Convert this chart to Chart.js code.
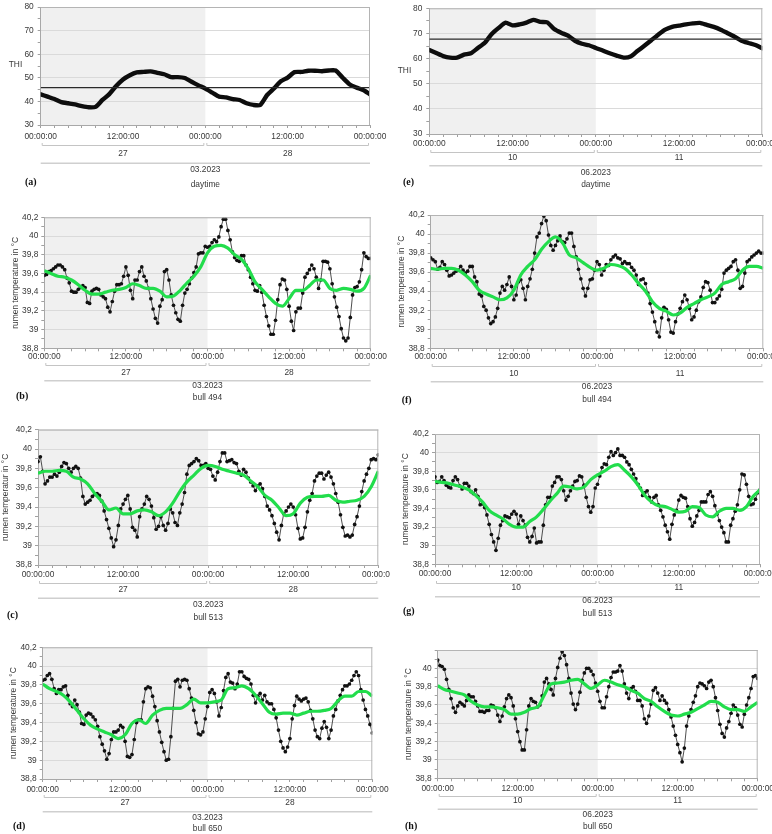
<!DOCTYPE html>
<html><head><meta charset="utf-8">
<script src="https://cdn.jsdelivr.net/npm/chart.js@4.4.1/dist/chart.umd.min.js"></script>
<style>
html,body{margin:0;padding:0;background:#fff;}
body{width:772px;height:834px;position:relative;overflow:hidden;}
canvas{position:absolute;}
</style></head><body>
<canvas id="ca"></canvas><canvas id="ce"></canvas>
<canvas id="cb"></canvas><canvas id="cf"></canvas>
<canvas id="cc"></canvas><canvas id="cg"></canvas>
<canvas id="cd"></canvas><canvas id="ch"></canvas>
<script>
// ---------------- data ----------------
const daysMarch = ['27', '28'];
const daysJune = ['10', '11'];
const monthMarch = '03.2023';
const monthJune = '06.2023';
const timeTickLabels = ['00:00:00', '12:00:00', '00:00:00', '12:00:00', '00:00:00'];

// THI, hourly
const thiMarch = [43.0,42.0,41.0,39.7,39.2,38.7,38.0,37.5,37.7,40.6,43.1,46.5,49.3,51.1,52.3,52.5,52.7,52.1,51.5,50.3,50.3,49.9,48.3,46.8,45.4,43.7,42.0,41.7,41.0,40.6,39.2,38.5,38.5,42.7,45.5,48.5,50.1,52.4,52.5,53.0,53.0,52.8,53.1,53.1,50.1,47.3,45.9,44.8,43.0];
const thiJune = [63.4,62.2,61.0,60.4,60.4,61.6,62.1,64.2,66.3,69.8,72.2,74.3,73.2,73.6,74.3,75.4,74.6,74.4,71.8,70.3,69.1,67.1,65.9,65.3,64.2,63.2,62.1,61.2,60.4,60.8,63.0,65.1,67.3,69.5,71.5,72.6,73.1,73.6,74.0,74.2,73.4,72.6,71.5,70.1,68.7,67.1,66.2,65.4,64.1];
const thiLimitMarch = 45.8;
const thiLimitJune = 67.7;

// rumen temperature, 20-minute readings
const rumen494March = [39.58,39.59,39.62,39.63,39.65,39.67,39.69,39.69,39.67,39.64,39.55,39.50,39.41,39.40,39.40,39.43,39.45,39.47,39.45,39.29,39.28,39.41,39.43,39.44,39.43,39.37,39.35,39.33,39.24,39.19,39.30,39.41,39.48,39.48,39.49,39.57,39.67,39.58,39.42,39.33,39.53,39.53,39.62,39.67,39.57,39.52,39.44,39.33,39.22,39.12,39.07,39.25,39.32,39.62,39.64,39.53,39.37,39.26,39.18,39.11,39.09,39.26,39.39,39.43,39.49,39.55,39.61,39.67,39.81,39.82,39.82,39.89,39.88,39.89,39.93,39.96,39.94,39.99,40.10,40.18,40.18,40.06,39.96,39.83,39.77,39.74,39.73,39.79,39.79,39.69,39.64,39.56,39.49,39.42,39.41,39.47,39.40,39.26,39.14,39.04,38.95,38.95,39.10,39.32,39.48,39.54,39.53,39.43,39.25,39.09,38.99,39.19,39.23,39.23,39.39,39.56,39.60,39.64,39.69,39.65,39.56,39.44,39.53,39.73,39.73,39.72,39.65,39.49,39.35,39.24,39.14,39.01,38.91,38.88,38.91,39.13,39.37,39.45,39.46,39.51,39.64,39.82,39.78,39.76,39.76];
const rumen494June = [39.75,39.73,39.71,39.63,39.65,39.71,39.68,39.62,39.56,39.57,39.59,39.61,39.62,39.66,39.62,39.59,39.61,39.66,39.66,39.55,39.50,39.37,39.35,39.24,39.20,39.12,39.06,39.08,39.13,39.22,39.38,39.45,39.41,39.47,39.55,39.45,39.31,39.36,39.50,39.52,39.43,39.31,39.45,39.53,39.63,39.80,39.97,40.01,40.11,40.19,40.14,39.99,39.88,39.83,39.88,39.93,39.98,39.92,39.91,39.95,40.01,40.01,39.87,39.76,39.63,39.53,39.43,39.35,39.43,39.52,39.53,39.62,39.71,39.68,39.57,39.62,39.68,39.67,39.73,39.76,39.78,39.75,39.74,39.69,39.71,39.69,39.69,39.65,39.62,39.57,39.47,39.52,39.53,39.48,39.38,39.27,39.18,39.08,38.97,38.92,39.12,39.23,39.21,39.10,38.97,38.96,39.08,39.16,39.22,39.29,39.36,39.31,39.22,39.10,39.13,39.20,39.29,39.34,39.44,39.50,39.49,39.41,39.28,39.28,39.32,39.35,39.42,39.59,39.62,39.64,39.66,39.71,39.73,39.62,39.43,39.45,39.59,39.71,39.73,39.76,39.78,39.80,39.82,39.80,39.80];
const rumen513March = [39.87,39.92,39.77,39.64,39.67,39.71,39.71,39.74,39.72,39.76,39.82,39.86,39.85,39.80,39.76,39.80,39.82,39.80,39.70,39.51,39.43,39.45,39.47,39.51,39.53,39.54,39.52,39.46,39.36,39.27,39.18,39.08,38.99,39.06,39.21,39.38,39.43,39.48,39.52,39.38,39.19,39.16,39.09,39.30,39.38,39.43,39.51,39.48,39.41,39.29,39.17,39.20,39.30,39.21,39.16,39.23,39.38,39.34,39.24,39.21,39.34,39.43,39.55,39.74,39.83,39.85,39.87,39.90,39.88,39.83,39.83,39.85,39.80,39.79,39.72,39.68,39.76,39.87,39.96,39.96,39.87,39.88,39.89,39.86,39.85,39.77,39.73,39.79,39.76,39.70,39.66,39.62,39.57,39.62,39.64,39.59,39.51,39.41,39.37,39.31,39.23,39.14,39.06,39.21,39.33,39.36,39.40,39.43,39.40,39.32,39.18,39.07,39.08,39.19,39.35,39.47,39.54,39.67,39.72,39.75,39.75,39.69,39.73,39.76,39.71,39.64,39.54,39.45,39.32,39.19,39.10,39.11,39.09,39.11,39.22,39.30,39.41,39.56,39.67,39.74,39.80,39.89,39.90,39.89,39.94];
const rumen513June = [39.74,39.68,39.69,39.74,39.70,39.65,39.63,39.62,39.70,39.74,39.71,39.64,39.61,39.67,39.67,39.64,39.58,39.56,39.60,39.53,39.44,39.45,39.41,39.33,39.23,39.12,39.04,38.95,39.08,39.22,39.27,39.32,39.31,39.30,39.34,39.37,39.34,39.23,39.32,39.27,39.22,39.09,39.04,39.10,39.19,39.03,39.04,39.04,39.22,39.44,39.52,39.52,39.64,39.68,39.74,39.74,39.71,39.59,39.49,39.53,39.59,39.64,39.69,39.70,39.75,39.74,39.65,39.52,39.42,39.36,39.42,39.62,39.66,39.75,39.84,39.88,39.87,39.95,40.01,39.97,40.00,40.04,39.97,39.97,39.95,39.90,39.87,39.82,39.77,39.72,39.66,39.62,39.54,39.57,39.59,39.52,39.47,39.52,39.54,39.44,39.38,39.31,39.22,39.15,39.07,39.23,39.33,39.38,39.49,39.54,39.52,39.51,39.42,39.29,39.21,39.25,39.32,39.38,39.47,39.47,39.47,39.55,39.58,39.53,39.43,39.34,39.27,39.20,39.14,39.04,39.04,39.22,39.29,39.37,39.44,39.60,39.77,39.76,39.66,39.53,39.44,39.45,39.50,39.57,39.60];
const rumen650March = [39.85,39.86,39.90,39.92,39.86,39.76,39.71,39.75,39.75,39.78,39.79,39.69,39.60,39.57,39.64,39.59,39.51,39.39,39.38,39.48,39.50,39.49,39.46,39.43,39.36,39.25,39.17,39.10,39.01,39.07,39.22,39.30,39.30,39.32,39.37,39.35,39.20,39.04,39.03,39.06,39.22,39.40,39.43,39.43,39.62,39.76,39.78,39.77,39.68,39.57,39.42,39.30,39.19,39.09,39.00,39.01,39.25,39.55,39.84,39.86,39.78,39.85,39.86,39.85,39.76,39.66,39.53,39.40,39.28,39.27,39.30,39.44,39.57,39.72,39.75,39.71,39.62,39.47,39.56,39.74,39.88,39.92,39.83,39.82,39.76,39.81,39.94,39.94,39.89,39.87,39.86,39.81,39.69,39.61,39.68,39.71,39.64,39.69,39.62,39.60,39.60,39.54,39.45,39.32,39.20,39.13,39.09,39.14,39.23,39.44,39.58,39.68,39.65,39.63,39.65,39.66,39.62,39.53,39.44,39.32,39.25,39.23,39.34,39.41,39.35,39.23,39.32,39.47,39.54,39.63,39.69,39.75,39.79,39.79,39.81,39.85,39.90,39.94,39.90,39.75,39.64,39.54,39.47,39.38,39.29];
const rumen650June = [40.09,40.03,40.02,39.99,39.88,39.77,39.67,39.57,39.52,39.59,39.63,39.61,39.59,39.65,39.71,39.69,39.69,39.64,39.59,39.53,39.53,39.52,39.54,39.54,39.60,39.59,39.57,39.49,39.42,39.48,39.58,39.67,39.71,39.68,39.59,39.45,39.31,39.20,39.11,39.11,39.33,39.59,39.67,39.64,39.63,39.58,39.60,39.70,39.85,39.89,39.83,39.77,39.71,39.89,40.01,40.11,40.18,40.14,40.04,39.89,39.73,39.61,39.55,39.61,39.74,39.87,39.95,40.00,40.00,39.97,39.93,39.84,39.75,39.64,39.57,39.57,39.69,39.80,39.90,39.96,39.96,39.97,40.03,39.97,39.83,39.73,39.67,39.78,39.80,39.75,39.65,39.65,39.59,39.45,39.40,39.48,39.61,39.76,39.79,39.73,39.65,39.70,39.65,39.62,39.55,39.47,39.37,39.27,39.17,39.08,38.98,39.13,39.37,39.48,39.55,39.63,39.70,39.80,39.84,39.83,39.81,39.78,39.85,39.87,39.80,39.68,39.54,39.39,39.29,39.25,39.35,39.42,39.51,39.60,39.57,39.49,39.39,39.36,39.50,39.60,39.68,39.78,39.91,39.92,39.89];

// smoothed trend (green), hourly
const trend494March = [39.63,39.60,39.57,39.56,39.53,39.48,39.42,39.38,39.38,39.40,39.42,39.43,39.45,39.49,39.47,39.44,39.44,39.41,39.35,39.36,39.42,39.50,39.57,39.67,39.82,39.89,39.90,39.87,39.80,39.75,39.65,39.51,39.43,39.35,39.28,39.25,39.33,39.42,39.42,39.47,39.53,39.53,39.44,39.42,39.44,39.43,39.41,39.44,39.58];
const trend494June = [39.64,39.63,39.64,39.64,39.62,39.57,39.50,39.41,39.37,39.34,39.31,39.33,39.41,39.57,39.66,39.73,39.84,39.92,39.97,39.91,39.78,39.75,39.70,39.65,39.62,39.64,39.68,39.67,39.64,39.57,39.48,39.40,39.29,39.22,39.19,39.15,39.17,39.23,39.27,39.31,39.34,39.38,39.47,39.50,39.53,39.62,39.66,39.66,39.64];
const trend513March = [39.75,39.77,39.77,39.78,39.77,39.71,39.69,39.64,39.54,39.46,39.37,39.39,39.33,39.33,39.36,39.37,39.35,39.31,39.35,39.44,39.56,39.66,39.73,39.80,39.83,39.82,39.79,39.77,39.75,39.73,39.67,39.61,39.52,39.47,39.39,39.31,39.33,39.44,39.50,39.51,39.51,39.52,39.47,39.45,39.46,39.47,39.51,39.61,39.77];
const trend513June = [39.69,39.68,39.67,39.65,39.63,39.60,39.54,39.47,39.38,39.33,39.29,39.23,39.20,39.20,39.26,39.31,39.39,39.48,39.56,39.64,39.63,39.61,39.63,39.71,39.76,39.80,39.85,39.87,39.81,39.74,39.65,39.54,39.47,39.43,39.42,39.39,39.36,39.37,39.42,39.41,39.33,39.31,39.37,39.40,39.40,39.38,39.42,39.53,39.60];
const trend650March = [39.81,39.76,39.73,39.69,39.62,39.53,39.44,39.37,39.33,39.30,39.27,39.23,39.27,39.39,39.43,39.39,39.48,39.53,39.55,39.55,39.55,39.59,39.65,39.61,39.61,39.62,39.64,39.76,39.77,39.79,39.76,39.69,39.60,39.51,39.49,39.50,39.50,39.48,39.50,39.52,39.52,39.53,39.55,39.63,39.68,39.68,39.73,39.73,39.68];
const trend650June = [39.81,39.77,39.75,39.73,39.71,39.64,39.60,39.58,39.58,39.57,39.55,39.50,39.50,39.52,39.56,39.58,39.71,39.83,39.84,39.85,39.87,39.88,39.83,39.78,39.82,39.87,39.85,39.82,39.80,39.76,39.73,39.67,39.64,39.58,39.53,39.49,39.48,39.50,39.52,39.56,39.60,39.64,39.63,39.58,39.55,39.55,39.53,39.58,39.63];

// time axis (hours since first midnight)
const hoursHourly = Array.from({length: 49}, (_, i) => i);
const hours20min = Array.from({length: 145}, (_, i) => i / 3);

// ---------------- drawing ----------------
const FONT = '"Liberation Sans",Arial,sans-serif';
const FS = 8.4;
const TXT = '#383838';
const GREEN = '#22dd4c';

function pts(xs, ys) { return ys.map((v, i) => ({x: xs[i], y: v})); }

const panels = [
  {id:'a', left:0, top:0, w:390, h:195, L:40.7, T:7, R:370, B:125, kind:'thi', series:thiMarch, limit:thiLimitMarch,
   days:daysMarch, month:monthMarch, sub:'daytime', letter:'(a)', lx:25, ly:182.7, thiX:15.5, thiY:65, xPad:3.7,
   off:{br:20, day:28.3, long:38.3, mon:45, sub:59.3}},
  {id:'e', left:390, top:0, w:382, h:195, L:429.3, T:8.3, R:762.3, B:134, kind:'thi', series:thiJune, limit:thiLimitJune,
   days:daysJune, month:monthJune, sub:'daytime', letter:'(e)', lx:403, ly:182.7, thiX:404.5, thiY:71, xPad:2,
   off:{br:17.7, day:23.3, long:31.7, mon:38.3, sub:50.3}},
  {id:'b', left:0, top:200, w:390, h:210, L:44.3, T:217.3, R:370.7, B:348.3, kind:'rumen', series:rumen494March, trend:trend494March,
   ytitle:'rumen temperature in °C', tpad:10.5, days:daysMarch, month:monthMarch, sub:'bull 494', letter:'(b)', lx:16, ly:396, xPad:0.4,
   off:{br:16.7, day:24.4, long:32.4, mon:37.4, sub:49}},
  {id:'f', left:390, top:200, w:382, h:210, L:430.7, T:215, R:763.3, B:348.3, kind:'rumen', series:rumen494June, trend:trend494June,
   ytitle:'rumen temperature in °C', tpad:6.7, days:daysJune, month:monthJune, sub:'bull 494', letter:'(f)', lx:401.7, ly:400.7, xPad:0.4,
   off:{br:17.4, day:25, long:33.4, mon:38.4, sub:51.7}},
  {id:'c', left:0, top:415, w:390, h:210, L:38, T:429.7, R:378.3, B:565, kind:'rumen', series:rumen513March, trend:trend513March,
   ytitle:'rumen temperatur in °C', tpad:0.8, days:daysMarch, month:monthMarch, sub:'bull 513', letter:'(c)', lx:7, ly:615.7, xPad:2,
   off:{br:18.3, day:25, long:33.3, mon:40, sub:52.3}},
  {id:'g', left:390, top:415, w:382, h:210, L:435, T:434, R:760, B:564.3, kind:'rumen', series:rumen513June, trend:trend513June,
   ytitle:'rumen temperature in °C', tpad:10.7, days:daysJune, month:monthJune, sub:'bull 513', letter:'(g)', lx:403, ly:611.7, xPad:1.7,
   off:{br:18.4, day:23.4, long:32.4, mon:36.4, sub:49}},
  {id:'d', left:0, top:625, w:390, h:209, L:42.7, T:647.3, R:372.3, B:779, kind:'rumen', series:rumen650March, trend:trend650March,
   ytitle:'rumen temperature in °C', tpad:9, days:daysMarch, month:monthMarch, sub:'bull 650', letter:'(d)', lx:13, ly:826.7, xPad:3,
   off:{br:17.7, day:23.3, long:32.7, mon:38.3, sub:49.3}},
  {id:'h', left:390, top:625, w:382, h:209, L:437.7, T:650, R:757.7, B:778.3, kind:'rumen', series:rumen650June, trend:trend650June,
   ytitle:'rumen temperature in °C', tpad:13.7, hideTop:true, days:daysJune, month:monthJune, sub:'bull 650', letter:'(h)', lx:405, ly:826.7, xPad:2,
   off:{br:17.4, day:22.7, long:31, mon:36.7, sub:48.4}}
];

function fmtTemp(v) {
  const t = Math.round(v * 10);
  if (t % 10 === 0) return String(t / 10);
  return (t / 10).toFixed(1).replace('.', ',');
}

function decor(p) {
  return {
    id: 'decor' + p.id,
    beforeDraw(chart) {
      const ctx = chart.ctx, a = chart.chartArea, x = chart.scales.x;
      ctx.save();
      ctx.fillStyle = '#f0f0f0';
      const x0 = x.getPixelForValue(0), x1 = x.getPixelForValue(24);
      ctx.fillRect(x0, a.top, x1 - x0, a.bottom - a.top);
      ctx.restore();
    },
    afterDraw(chart) {
      const ctx = chart.ctx, a = chart.chartArea, x = chart.scales.x;
      ctx.save();
      // frame top/right
      ctx.strokeStyle = '#b4b4b4'; ctx.lineWidth = 1;
      ctx.beginPath();
      ctx.moveTo(a.left, a.top + 0.5); ctx.lineTo(a.right, a.top + 0.5);
      ctx.moveTo(a.right - 0.5, a.top); ctx.lineTo(a.right - 0.5, a.bottom);
      ctx.stroke();
      const B = a.bottom;
      ctx.font = FS + 'px ' + FONT;
      ctx.fillStyle = TXT;
      ctx.textAlign = 'center'; ctx.textBaseline = 'middle';
      // day brackets
      ctx.strokeStyle = '#c4c4c4'; ctx.lineWidth = 1;
      for (let d = 0; d < 2; d++) {
        const xa = x.getPixelForValue(24 * d) + 1.5, xb = x.getPixelForValue(24 * (d + 1)) - 1.5;
        const yb = Math.round(B + p.off.br) + 0.5;
        ctx.beginPath();
        ctx.moveTo(xa, yb - 2.5); ctx.lineTo(xa, yb); ctx.lineTo(xb, yb); ctx.lineTo(xb, yb - 2.5);
        ctx.stroke();
        ctx.fillText(p.days[d], x.getPixelForValue(12 + 24 * d), B + p.off.day);
      }
      // month line
      ctx.strokeStyle = '#cfcfcf'; ctx.lineWidth = 1.5;
      ctx.beginPath();
      ctx.moveTo(x.getPixelForValue(0), B + p.off.long); ctx.lineTo(x.getPixelForValue(48), B + p.off.long);
      ctx.stroke();
      ctx.fillText(p.month, x.getPixelForValue(24), B + p.off.mon);
      ctx.fillText(p.sub, x.getPixelForValue(24), B + p.off.sub);
      if (p.kind === 'thi') {
        ctx.fillText('THI', p.thiX - p.left, p.thiY - p.top);
      }
      // panel letter
      ctx.font = 'bold 10px "Liberation Serif","Times New Roman",serif';
      ctx.fillStyle = '#111';
      ctx.textAlign = 'left';
      ctx.fillText(p.letter, p.lx - p.left, p.ly - p.top);
      ctx.restore();
    }
  };
}

function makeChart(p) {
  const cv = document.getElementById('c' + p.id);
  cv.width = p.w; cv.height = p.h;
  cv.style.left = p.left + 'px'; cv.style.top = p.top + 'px';
  cv.style.width = p.w + 'px'; cv.style.height = p.h + 'px';
  const yW = p.L - p.left, xH = p.top + p.h - p.B, padT = p.T - p.top, padR = p.left + p.w - p.R;
  const font = {family: FONT, size: FS};
  let datasets, yScale;
  if (p.kind === 'thi') {
    datasets = [
      {data: [{x: 0, y: p.limit}, {x: 48, y: p.limit}], borderColor: '#2a2a2a', borderWidth: 1.2, pointRadius: 0, tension: 0},
      {data: pts(hoursHourly, p.series), borderColor: '#0d0d0d', borderWidth: 4.4, pointRadius: 0, tension: 0.2, borderCapStyle: 'round', borderJoinStyle: 'round'}
    ];
    yScale = {
      type: 'linear', min: 30, max: 80,
      ticks: {stepSize: 5, autoSkip: false, padding: 4, color: TXT, font,
        callback: (v) => (Math.round(v) % 10 === 0 ? String(Math.round(v)) : '')},
      grid: {color: (c) => (c.tick && Math.round(c.tick.value) % 10 === 0 ? '#dadada' : 'rgba(0,0,0,0)'),
        tickColor: '#a0a0a0', tickLength: 3},
      border: {color: '#a8a8a8'},
      afterFit: (s) => { s.width = yW; s.paddingTop = 0; s.paddingBottom = 0; }
    };
  } else {
    datasets = [
      {data: pts(hoursHourly, p.trend), borderColor: GREEN, borderWidth: 3.2, pointRadius: 0, tension: 0.4, cubicInterpolationMode: 'monotone'},
      {data: pts(hours20min, p.series), borderColor: '#3a3a3a', borderWidth: 0.9, pointRadius: 1.85,
        pointBackgroundColor: '#111', pointBorderWidth: 0, tension: 0}
    ];
    yScale = {
      type: 'linear', min: 38.8, max: 40.2,
      ticks: {stepSize: 0.1, autoSkip: false, padding: 3, color: TXT, font,
        callback: (v) => {
          const t = Math.round(v * 10);
          if (t % 2 !== 0) return '';
          if (p.hideTop && t === 402) return '';
          return fmtTemp(v);
        }},
      grid: {color: (c) => (c.tick && Math.round(c.tick.value * 10) % 2 === 0 ? '#dadada' : 'rgba(0,0,0,0)'),
        tickColor: '#a0a0a0', tickLength: 3},
      border: {color: '#a8a8a8'},
      title: {display: true, text: p.ytitle, color: TXT, font, padding: {top: p.tpad, bottom: 0}},
      afterFit: (s) => { s.width = yW; s.paddingTop = 0; s.paddingBottom = 0; }
    };
  }
  new Chart(cv, {
    type: 'line',
    data: {datasets},
    options: {
      responsive: false, animation: false, devicePixelRatio: 1,
      layout: {padding: {left: 0, top: padT, right: padR, bottom: 0}},
      plugins: {legend: {display: false}, tooltip: {enabled: false}},
      scales: {
        x: {
          type: 'linear', min: 0, max: 48,
          ticks: {stepSize: 2, autoSkip: false, maxRotation: 0, minRotation: 0, padding: p.xPad, color: TXT, font,
            callback: (v) => (Math.round(v) % 12 === 0 ? timeTickLabels[Math.round(v) / 12] : '')},
          grid: {drawOnChartArea: false, drawTicks: true, tickLength: 3, tickColor: '#a0a0a0'},
          border: {color: '#a8a8a8'},
          afterFit: (s) => { s.height = xH; s.paddingLeft = 0; s.paddingRight = 0; }
        },
        y: yScale
      }
    },
    plugins: [decor(p)]
  });
}

panels.forEach(makeChart);
</script>
</body></html>
